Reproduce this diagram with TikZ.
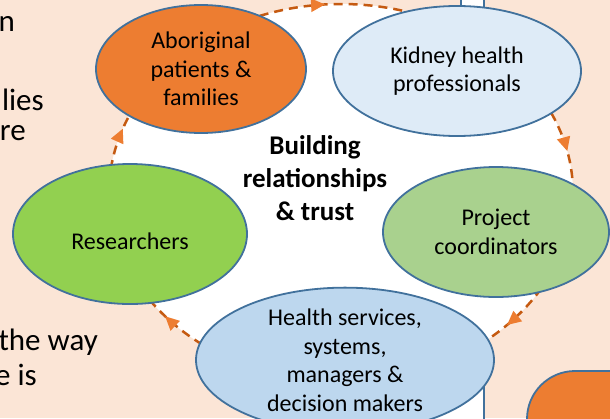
\documentclass[tikz,border=0pt]{standalone}
\usepackage{fontspec}
\setmainfont{Carlito}
\usepackage{xcolor}
\usetikzlibrary{shapes.geometric,arrows.meta,decorations.markings}
\definecolor{peach}{HTML}{FBE5D6}
\definecolor{edge}{HTML}{41719C}
\definecolor{orng}{HTML}{ED7D31}
\definecolor{rust}{HTML}{C55A11}
\definecolor{kid}{HTML}{DEEBF7}
\definecolor{hbl}{HTML}{BDD7EE}
\definecolor{grn}{HTML}{92D050}
\definecolor{pgrn}{HTML}{A9D18E}

\begin{document}
\begin{tikzpicture}[x=1pt, y=1pt,
	blob/.style={ellipse, draw=edge, line width=1.8pt, inner sep=0pt, align=center, font=\fontsize{24}{28.5}\selectfont},
	frag/.style={anchor=base east, inner sep=0pt, font=\fontsize{31}{36}\selectfont}]
	\useasboundingbox (0,0) rectangle (610,-418);
	\clip (0,0) rectangle (610,-418);
	\fill[peach] (0,0) rectangle (610,-418);

	\draw[rust, fill=white, line width=2.5pt, dash pattern=on 9pt off 6pt, postaction={decorate},
		decoration={markings,
			mark=at position 0.032 with {\arrowreversed{Triangle[length=14pt, width=13pt, color=orng]}},
			mark=at position 0.262 with {\arrowreversed{Triangle[length=14pt, width=13pt, color=orng]}},
			mark=at position 0.450 with {\arrowreversed{Triangle[length=14pt, width=13pt, color=orng]}},
			mark=at position 0.605 with {\arrowreversed{Triangle[length=14pt, width=13pt, color=orng]}},
			mark=at position 0.885 with {\arrowreversed{Triangle[length=14pt, width=13pt, color=orng]}}}]
		(341,-193) ellipse [x radius=232, y radius=189];

	\draw[fill=white, draw=edge, line width=1.8pt] (427,-424) -- (470,-378) -- (484,-378) -- (484,-424) -- cycle;
	\draw[fill=white, draw=edge, line width=1.8pt] (461,10) rectangle (484,-14);

	\node[blob, fill=orng, minimum width=210pt, minimum height=128pt] (a) at (201,-69) {Aboriginal\\patients \&\\families};
	\node[blob, fill=kid, minimum width=248pt, minimum height=130pt] (k) at (457,-71) {Kidney health\\professionals};
	\node[blob, fill=grn, minimum width=234pt, minimum height=140pt, text height=30pt, text depth=0pt] (r) at (130,-234) {Researchers};
	\node[blob, fill=pgrn, minimum width=226pt, minimum height=130pt] (p) at (496,-232) {Project\\coordinators};
	\node[blob, fill=hbl, minimum width=298pt, minimum height=114pt] (h) at (345,-360) {Health services,\\systems,\\managers \&\\decision makers};

	\node[align=center, font=\fontsize{27}{33}\selectfont\bfseries] (t) at (315,-178) {Building\\relationships\\\& trust};

	\node[frag] (f1) at (15,-31) {n};
	\node[frag] (f2) at (44,-110) {lies};
	\node[frag] (f3) at (26,-140) {re};
	\node[frag] (f4) at (98,-350) {the way};
	\node[frag] (f5) at (37,-385) {e is};

	\draw[fill=orng, draw=edge, line width=1.8pt, rounded corners=48pt] (527,-470) rectangle (660,-371);
\end{tikzpicture}
\end{document}
